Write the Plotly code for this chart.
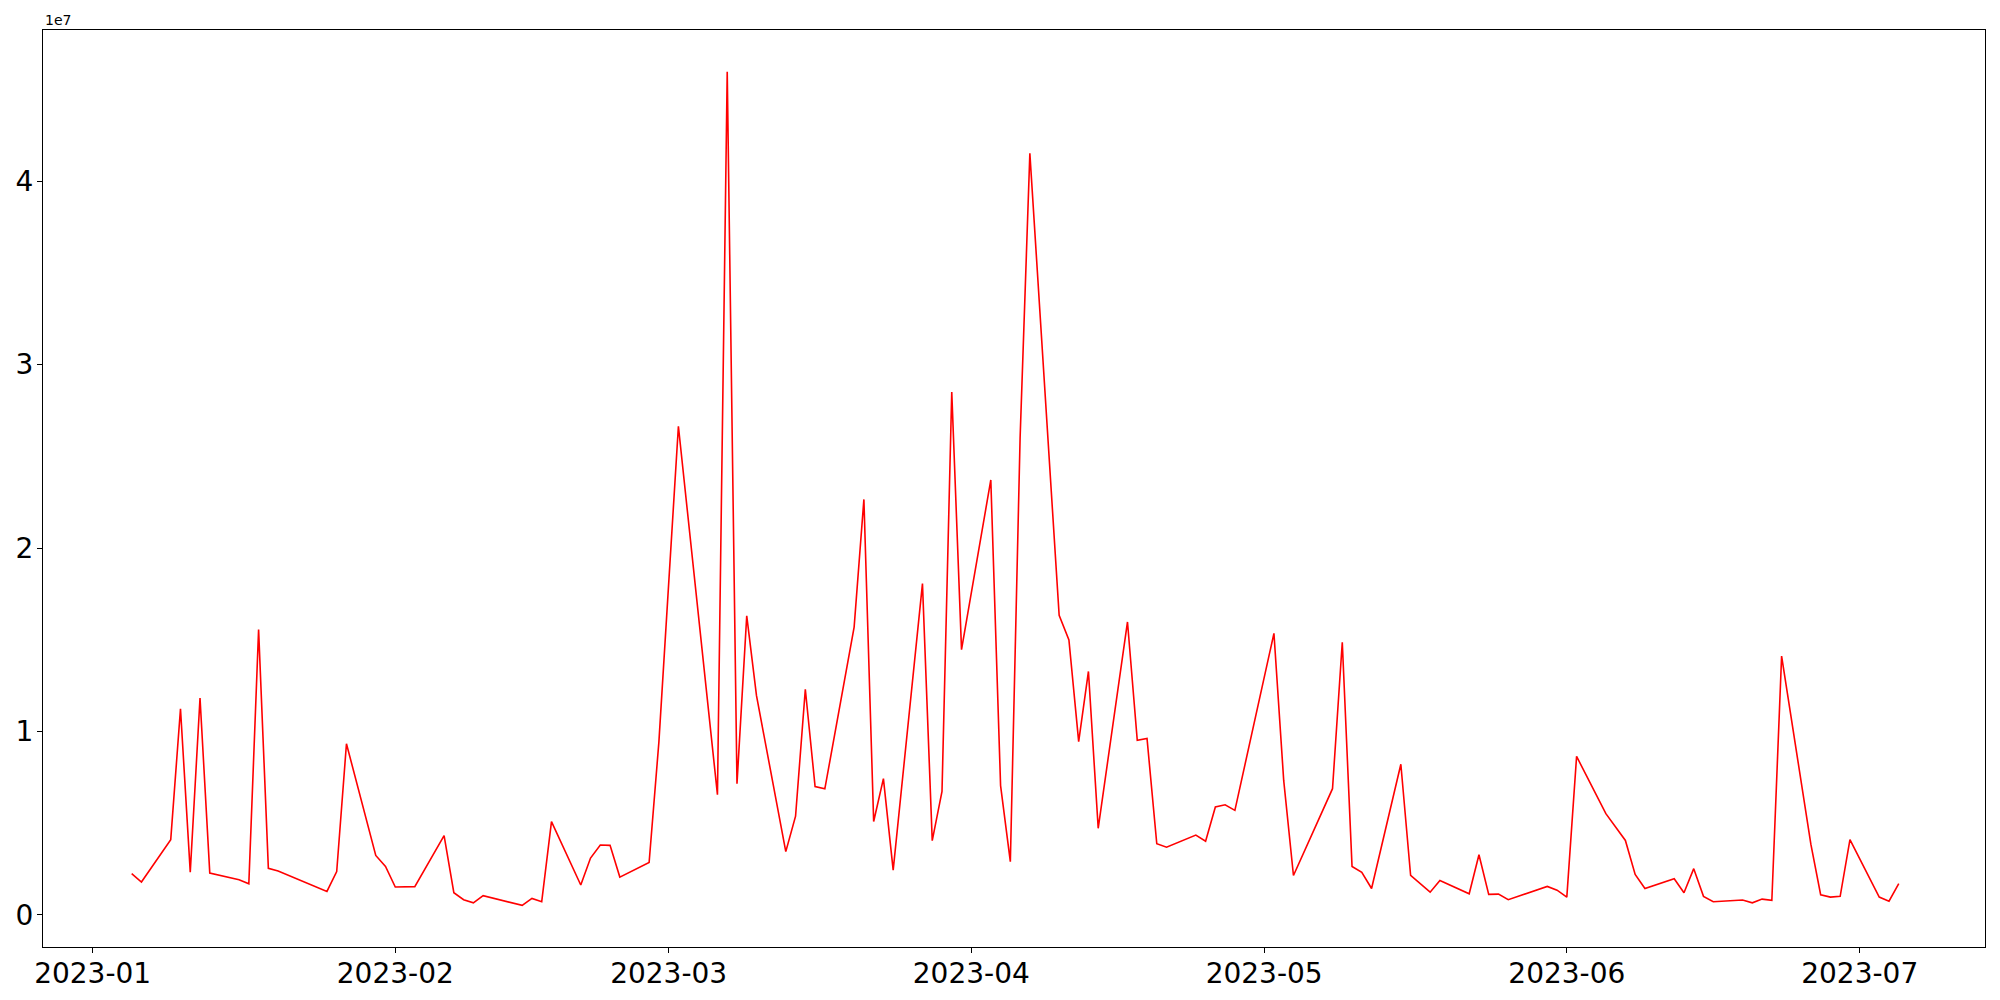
import plotly.graph_objects as go

dates = ['2023-01-05', '2023-01-06', '2023-01-09', '2023-01-10', '2023-01-11', '2023-01-12', '2023-01-13',
         '2023-01-16', '2023-01-17', '2023-01-18', '2023-01-19', '2023-01-20', '2023-01-25', '2023-01-26',
         '2023-01-27', '2023-01-30', '2023-01-31', '2023-02-01', '2023-02-03', '2023-02-06', '2023-02-07',
         '2023-02-08', '2023-02-09', '2023-02-10', '2023-02-14', '2023-02-15', '2023-02-16', '2023-02-17',
         '2023-02-20', '2023-02-21', '2023-02-22', '2023-02-23', '2023-02-24', '2023-02-27', '2023-02-28',
         '2023-03-02', '2023-03-06', '2023-03-07', '2023-03-08', '2023-03-09', '2023-03-10', '2023-03-13',
         '2023-03-14', '2023-03-15', '2023-03-16', '2023-03-17', '2023-03-20', '2023-03-21', '2023-03-22',
         '2023-03-23', '2023-03-24', '2023-03-27', '2023-03-28', '2023-03-29', '2023-03-30', '2023-03-31',
         '2023-04-03', '2023-04-04', '2023-04-05', '2023-04-06', '2023-04-07', '2023-04-10', '2023-04-11',
         '2023-04-12', '2023-04-13', '2023-04-14', '2023-04-17', '2023-04-18', '2023-04-19', '2023-04-20',
         '2023-04-21', '2023-04-24', '2023-04-25', '2023-04-26', '2023-04-27', '2023-04-28', '2023-05-02',
         '2023-05-03', '2023-05-04', '2023-05-08', '2023-05-09', '2023-05-10', '2023-05-11', '2023-05-12',
         '2023-05-15', '2023-05-16', '2023-05-18', '2023-05-19', '2023-05-22', '2023-05-23', '2023-05-24',
         '2023-05-25', '2023-05-26', '2023-05-30', '2023-05-31', '2023-06-01', '2023-06-02', '2023-06-05',
         '2023-06-07', '2023-06-08', '2023-06-09', '2023-06-12', '2023-06-13', '2023-06-14', '2023-06-15',
         '2023-06-16', '2023-06-19', '2023-06-20', '2023-06-21', '2023-06-22', '2023-06-23', '2023-06-26',
         '2023-06-27', '2023-06-28', '2023-06-29', '2023-06-30', '2023-07-03', '2023-07-04', '2023-07-05']

# values in millions
values_m = [2.25, 1.79, 4.10, 11.24, 2.33, 11.82, 2.28,
            1.92, 1.70, 15.55, 2.54, 2.39, 1.28, 2.36,
            9.33, 3.24, 2.64, 1.52, 1.54, 4.32, 1.21,
            0.83, 0.66, 1.05, 0.52, 0.90, 0.72, 5.08,
            1.63, 3.10, 3.81, 3.79, 2.06, 2.86, 9.42,
            26.64, 6.55, 45.97, 7.15, 16.30, 11.95, 3.45,
            5.38, 12.30, 7.00, 6.87, 15.69, 22.65, 5.09,
            7.43, 2.44, 18.06, 4.05, 6.73, 28.50, 14.46,
            23.71, 7.05, 2.90, 26.0, 41.52, 16.33, 14.99,
            9.45, 13.27, 4.72, 15.97, 9.52, 9.62, 3.88,
            3.69, 4.35, 4.02, 5.88, 6.00, 5.70, 15.35,
            7.33, 2.15, 6.88, 14.86, 2.64, 2.32, 1.44,
            8.21, 2.15, 1.24, 1.88, 1.15, 3.28, 1.12,
            1.13, 0.83, 1.55, 1.35, 0.97, 8.64, 5.52,
            4.06, 2.21, 1.44, 1.97, 1.21, 2.52, 1.01,
            0.72, 0.81, 0.66, 0.86, 0.79, 14.11, 3.84,
            1.10, 0.97, 1.01, 4.10, 0.97, 0.75, 1.70]
values = [v * 1e6 for v in values_m]

x_ticks = ['2023-01-01', '2023-02-01', '2023-03-01', '2023-04-01', '2023-05-01', '2023-06-01', '2023-07-01']
y_ticks = [0, 1e7, 2e7, 3e7, 4e7]
y_tick_text = ['0', '1', '2', '3', '4']

fig = go.Figure(go.Scatter(x=dates, y=values, mode='lines',
                           line=dict(color='#ff0000', width=1.6)))

# page body has an 8px margin, so the figure is kept a bit smaller than the window
fig.update_layout(width=1992, height=992,
                  margin=dict(l=35, r=15, t=22, b=53),
                  paper_bgcolor='white', plot_bgcolor='white',
                  showlegend=False,
                  font=dict(family='DejaVu Sans', color='black', size=28),
                  annotations=[dict(text='1e7', xref='paper', yref='paper', x=0, y=1,
                                    xanchor='left', yanchor='bottom', showarrow=False,
                                    font=dict(size=14, family='DejaVu Sans', color='black'))])
fig.update_xaxes(range=['2022-12-26 22:00', '2023-07-13 20:00'],
                 tickvals=x_ticks, tickformat='%Y-%m', automargin=False,
                 ticks='outside', ticklen=5, tickwidth=1, tickcolor='black',
                 ticklabelstandoff=-4,
                 showline=True, linecolor='black', linewidth=1, mirror=True,
                 showgrid=False, zeroline=False, tickfont=dict(size=28))
fig.update_yaxes(range=[-1.75e6, 48.24e6],
                 tickvals=y_ticks, ticktext=y_tick_text, automargin=False,
                 ticks='outside', ticklen=5, tickwidth=1, tickcolor='black',
                 ticklabelstandoff=-2,
                 showline=True, linecolor='black', linewidth=1, mirror=True,
                 showgrid=False, zeroline=False, tickfont=dict(size=28))

fig.write_html("out.html")
